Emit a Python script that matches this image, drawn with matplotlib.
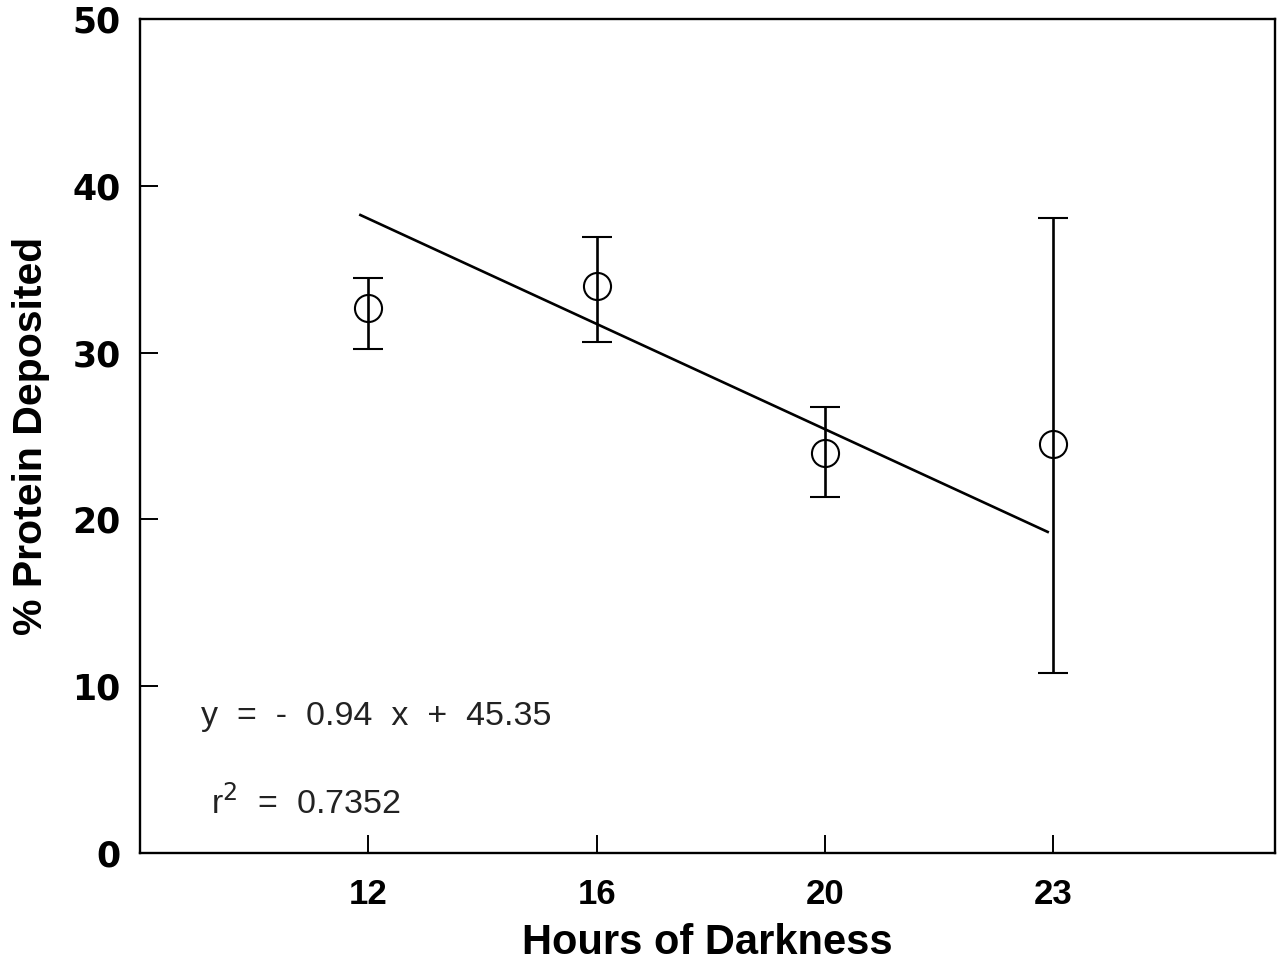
import matplotlib.pyplot as plt
import numpy as np

# Data
hours = ['12', '16', '20', '23']
protein_mean = [32.7, 34.0, 24.0, 24.5]
err_low = [2.5, 3.35, 2.65, 13.7]
err_high = [1.8, 2.95, 2.75, 13.6]

# Fitted line as drawn (category positions, % protein)
fit_pos = [0.965, 3.975]
fit_y = [38.25, 19.25]

eq_text = 'y  =  -  0.94  x  +  45.35'
r2_text = r'r$^{2}$  =  0.7352'


def main():
    fig = plt.figure(figsize=(12.8, 9.61), dpi=100)
    ax = fig.add_axes([0.1094, 0.1124, 0.8866, 0.8678])

    pos = np.arange(1, len(hours) + 1)

    ax.errorbar(pos, protein_mean, yerr=[err_low, err_high], fmt='o',
                color='black', mfc='none', mec='black', markersize=19.5,
                mew=1.5, elinewidth=1.9, capsize=10.5, capthick=1.9)
    ax.plot(fit_pos, fit_y, color='black', linewidth=1.9)

    ax.text(0.265, 8.2, eq_text, fontsize=24.5, family='Liberation Sans',
            color='#222222', va='center', ha='left')
    ax.text(0.31, 3.0, r2_text, fontsize=24.5, family='Liberation Sans',
            color='#222222', va='center', ha='left')

    ax.set_xlim(0, 4.97)
    ax.set_ylim(0, 50)
    ax.set_xticks(pos)
    ax.set_xticklabels(hours, fontsize=25, fontweight='bold', family='Liberation Sans')
    ax.set_yticks([0, 10, 20, 30, 40, 50])
    ax.set_yticklabels(['0', '10', '20', '30', '40', '50'], fontsize=25,
                       fontweight='bold', family='DejaVu Sans')
    ax.tick_params(axis='both', direction='in', length=13, width=1.4)
    ax.tick_params(axis='x', pad=18)
    ax.tick_params(axis='y', pad=14)

    for s in ax.spines.values():
        s.set_linewidth(1.7)

    ax.set_xlabel('Hours of Darkness', fontsize=30, fontweight='bold',
                  family='Liberation Sans', labelpad=9)
    ax.set_ylabel('% Protein Deposited', fontsize=29.5, fontweight='bold',
                  family='Liberation Sans', labelpad=16)

    fig.savefig('out.png', dpi=100)
    plt.close(fig)


if __name__ == "__main__":
    main()
